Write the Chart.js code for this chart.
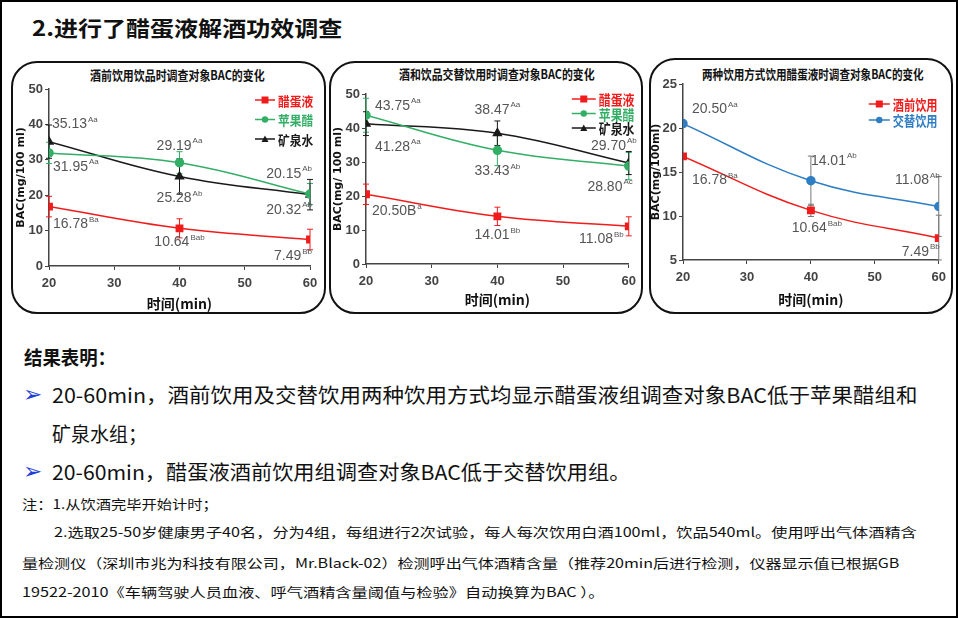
<!DOCTYPE html>
<html>
<head>
<meta charset="utf-8">
<script src="https://cdn.jsdelivr.net/npm/chart.js"></script>
<style>
  html, body { margin: 0; padding: 0; background: #fff; }
  #slide { position: relative; width: 958px; height: 618px; box-sizing: border-box; border: 2px solid #000; overflow: hidden;
           font-family: "Noto Sans CJK SC", "Noto Sans", sans-serif; color: #111; }
  .txt { position: absolute; white-space: nowrap; transform-origin: left center; }
  .panel { position: absolute; border: 2px solid #111; border-radius: 26px; box-sizing: border-box; }
  canvas { position: absolute; }
  .ctitle { font-weight: bold; font-size: 13px; color: #111; }
  .arrow { position: absolute; color: #1f3fd8; font-family: "DejaVu Sans", sans-serif; font-size: 23px; line-height: 26px; }
</style>
</head>
<body>
<div id="slide">
  <div class="txt fit" data-w="310" style="left:30px;top:10px;line-height:30px;font-size:21px;font-weight:bold;">2.进行了醋蛋液解酒功效调查</div>

  <div class="panel" style="left:9px;top:59px;width:315px;height:253px;"></div>
  <div class="panel" style="left:327px;top:59px;width:314px;height:253px;"></div>
  <div class="panel" style="left:647px;top:56px;width:304px;height:256px;"></div>

  <div class="txt fit ctitle" data-w="175" style="left:88px;top:64px;line-height:18px;">酒前饮用饮品时调查对象BAC的变化</div>
  <div class="txt fit ctitle" data-w="196" style="left:397px;top:63px;line-height:18px;">酒和饮品交替饮用时调查对象BAC的变化</div>
  <div class="txt fit ctitle" data-w="222" style="left:700px;top:63px;line-height:18px;">两种饮用方式饮用醋蛋液时调查对象BAC的变化</div>

  <canvas id="c1" width="312" height="250" style="left:10px;top:60px;"></canvas>
  <canvas id="c2" width="313" height="250" style="left:327px;top:60px;"></canvas>
  <canvas id="c3" width="302" height="253" style="left:648px;top:57px;"></canvas>

  <div class="txt fit" data-w="92" style="left:22px;top:342px;line-height:26px;font-size:19px;font-weight:bold;">结果表明：</div>
  <div class="arrow" style="left:21px;top:379px;">➢</div>
  <div class="txt fit" data-w="865" style="left:50px;top:380px;line-height:26px;font-size:20px;">20-60min，酒前饮用及交替饮用两种饮用方式均显示醋蛋液组调查对象BAC低于苹果醋组和</div>
  <div class="txt fit" data-w="95" style="left:50px;top:419px;line-height:26px;font-size:20px;">矿泉水组；</div>
  <div class="arrow" style="left:21px;top:456px;">➢</div>
  <div class="txt fit" data-w="578" style="left:50px;top:457px;line-height:26px;font-size:20px;">20-60min，醋蛋液酒前饮用组调查对象BAC低于交替饮用组。</div>

  <div class="txt fit" data-w="196" style="left:20px;top:492px;line-height:20px;font-size:13px;">注：1.从饮酒完毕开始计时；</div>
  <div class="txt fit" data-w="863" style="left:52px;top:520px;line-height:20px;font-size:13px;">2.选取25-50岁健康男子40名，分为4组，每组进行2次试验，每人每次饮用白酒100ml，饮品540ml。使用呼出气体酒精含</div>
  <div class="txt fit" data-w="878" style="left:20px;top:551px;line-height:20px;font-size:13px;">量检测仪（深圳市兆为科技有限公司，Mr.Black-02）检测呼出气体酒精含量（推荐20min后进行检测，仪器显示值已根据GB</div>
  <div class="txt fit" data-w="582" style="left:20px;top:580px;line-height:20px;font-size:13px;">19522-2010《车辆驾驶人员血液、呼气酒精含量阈值与检验》自动换算为BAC ）。</div>
</div>

<script>
// sampling times (min)
const times = [20, 40, 60];

// chart 1: 酒前饮用饮品
const c1Egg = [16.78, 10.64, 7.49];
const c1EggErr = [2.9, 2.7, 2.9];
const c1EggSup = ['Ba', 'Bab', 'Bb'];
const c1Apple = [31.95, 29.19, 20.32];
const c1AppleErr = [3.0, 3.1, 3.0];
const c1AppleSup = ['Aa', 'Aa', 'Ab'];
const c1Water = [35.13, 25.28, 20.15];
const c1WaterErr = [4.7, 5.0, 4.3];
const c1WaterSup = ['Aa', 'Ab', 'Ab'];

// chart 2: 酒和饮品交替饮用
const c2Egg = [20.50, 14.01, 11.08];
const c2EggErr = [3.0, 2.7, 2.8];
const c2EggText = ['20.50B', '14.01', '11.08'];
const c2EggSup = ['a', 'Bb', 'Bb'];
const c2Apple = [43.75, 33.43, 28.80];
const c2AppleErr = [5.0, 4.5, 4.0];
const c2AppleSup = ['Aa', 'Ab', 'Ac'];
const c2Water = [41.28, 38.47, 29.70];
const c2WaterErr = [3.5, 3.6, 3.4];
const c2WaterSup = ['Aa', 'Aa', 'Ab'];

// chart 3: 两种饮用方式饮用醋蛋液
const c3Before = [16.78, 10.64, 7.49];
const c3BeforeErr = [0, 0.7, 2.6];
const c3BeforeSup = ['Ba', 'Bab', 'Bb'];
const c3Alt = [20.50, 14.01, 11.08];
const c3AltErr = [0, 2.8, 3.4];
const c3AltSup = ['Aa', 'Ab', 'Ab'];

const RED = '#f01c1c', GREEN = '#33ae66', BLACK = '#1a1a1a', BLUE = '#2f7ec4';
const AXIS = '#444';
const NARROW = '"Liberation Sans Narrow", "Arial Narrow", "Liberation Sans", sans-serif';

// fit slide text widths
document.querySelectorAll('.fit').forEach(el => {
  const w = +el.dataset.w;
  el.style.transform = 'scaleX(' + (w / el.scrollWidth) + ')';
});

// error bars, drawn under the points
const errorBars = {
  id: 'errorBars',
  beforeDatasetsDraw(chart) {
    const ctx = chart.ctx, ys = chart.scales.y;
    chart.data.datasets.forEach((ds, i) => {
      if (!ds.errors) return;
      const meta = chart.getDatasetMeta(i);
      ctx.save();
      ctx.strokeStyle = ds.barColor || ds.borderColor;
      ctx.lineWidth = 1;
      meta.data.forEach((pt, j) => {
        const e = ds.errors[j];
        if (!e) return;
        const v = ds.data[j].y;
        const y1 = Math.max(ys.getPixelForValue(v + e), chart.chartArea.top - 8);
        const y2 = Math.min(ys.getPixelForValue(v - e), chart.chartArea.bottom);
        ctx.beginPath();
        ctx.moveTo(pt.x, y1); ctx.lineTo(pt.x, y2);
        ctx.moveTo(pt.x - 3, y1); ctx.lineTo(pt.x + 3, y1);
        ctx.moveTo(pt.x - 3, y2); ctx.lineTo(pt.x + 3, y2);
        ctx.stroke();
      });
      ctx.restore();
    });
  }
};

// value labels with superscript letters
const valueLabels = {
  id: 'valueLabels',
  afterDatasetsDraw(chart) {
    const ctx = chart.ctx;
    chart.data.datasets.forEach((ds, i) => {
      if (!ds.sups) return;
      const meta = chart.getDatasetMeta(i);
      meta.data.forEach((pt, j) => {
        const main = ds.texts ? ds.texts[j] : ds.data[j].y.toFixed(2);
        const sup = ds.sups[j];
        const [dx, dy, align] = ds.labelPos[j];
        ctx.save();
        ctx.fillStyle = '#555';
        ctx.textBaseline = 'middle';
        ctx.textAlign = 'left';
        ctx.font = '14px ' + NARROW;
        const w1 = ctx.measureText(main).width;
        ctx.font = '8px ' + NARROW;
        const w2 = ctx.measureText(sup).width + 1;
        let x = pt.x + dx;
        if (align === 'right') x -= w1 + w2;
        else if (align === 'center') x -= (w1 + w2) / 2;
        const y = pt.y + dy;
        ctx.font = '14px ' + NARROW;
        ctx.fillText(main, x, y);
        ctx.font = '8px ' + NARROW;
        ctx.fillText(sup, x + w1 + 1, y - 5);
        ctx.restore();
      });
    });
  }
};

// legend inside the plot area, top right
const innerLegend = {
  id: 'innerLegend',
  afterDraw(chart, args, opts) {
    const ctx = chart.ctx, area = chart.chartArea;
    chart.data.datasets.forEach((ds, i) => {
      const x = area.right + opts.dx, y = area.top + opts.dy + i * opts.gap;
      ctx.save();
      ctx.strokeStyle = ds.borderColor; ctx.lineWidth = 1.5;
      ctx.beginPath(); ctx.moveTo(x, y); ctx.lineTo(x + opts.len, y); ctx.stroke();
      ctx.fillStyle = ds.borderColor;
      const cx = x + opts.len / 2;
      if (ds.pointStyle === 'rect') ctx.fillRect(cx - 3.5, y - 3.5, 7, 7);
      else if (ds.pointStyle === 'triangle') { ctx.beginPath(); ctx.moveTo(cx, y - 3.5); ctx.lineTo(cx + 3.5, y + 3); ctx.lineTo(cx - 3.5, y + 3); ctx.fill(); }
      else { ctx.beginPath(); ctx.arc(cx, y, 3.2, 0, Math.PI * 2); ctx.fill(); }
      ctx.translate(x + opts.len + 3, y);
      ctx.scale(opts.sx, 1);
      ctx.font = 'bold ' + opts.size + 'px "Noto Sans CJK SC", sans-serif';
      ctx.textBaseline = 'middle';
      ctx.fillText(ds.label, 0, 1);
      ctx.restore();
    });
  }
};

function series(label, vals, errs, color, style, sups, pos, texts, barColor) {
  return {
    label, data: times.map((t, i) => ({ x: t, y: vals[i] })),
    errors: errs, sups, labelPos: pos, texts, barColor,
    borderColor: color, backgroundColor: color, pointBackgroundColor: color, pointBorderColor: color,
    pointStyle: style, pointRadius: style === 'circle' ? 4 : 4.5, borderWidth: 1.5,
    tension: 0.4, fill: false
  };
}

function makeChart(id, datasets, cfg) {
  return new Chart(document.getElementById(id), {
    type: 'line',
    data: { datasets },
    options: {
      responsive: false, animation: false,
      layout: { padding: { left: 0, top: cfg.top, right: cfg.right, bottom: 0 } },
      plugins: { legend: { display: false }, tooltip: { enabled: false }, innerLegend: cfg.legend },
      scales: {
        x: {
          type: 'linear', min: 20, max: 60,
          ticks: { stepSize: 10, color: AXIS, padding: 6, font: { family: NARROW, size: 13, weight: 'bold' } },
          grid: { drawOnChartArea: false, tickLength: 4, color: AXIS },
          border: { color: AXIS, width: 1.5 },
          title: { display: true, text: '时间(min)', color: '#111', padding: { top: 0, bottom: cfg.xTitlePad },
                   font: { family: '"Noto Sans CJK SC", sans-serif', size: 14, weight: 'bold' } },
          afterFit(s) { s.height = cfg.xh; }
        },
        y: {
          min: cfg.ymin, max: cfg.ymax,
          ticks: { stepSize: cfg.step, color: AXIS, padding: 2, font: { family: NARROW, size: 13, weight: 'bold' } },
          grid: { drawOnChartArea: false, tickLength: 4, color: AXIS },
          border: { color: AXIS, width: 1.5 },
          title: { display: true, text: cfg.ytitle, color: '#111', padding: { top: cfg.yTitlePad, bottom: 0 },
                   font: { family: '"DejaVu Sans", sans-serif', size: 11, weight: 'bold' } },
          afterFit(s) { s.width = cfg.yw; }
        }
      }
    },
    plugins: [errorBars, valueLabels, innerLegend]
  });
}

makeChart('c1', [
  series('醋蛋液', c1Egg, c1EggErr, RED, 'rect', c1EggSup, [[4, 18, 'left'], [0, 14, 'center'], [2, 17, 'right']]),
  series('苹果醋', c1Apple, c1AppleErr, GREEN, 'circle', c1AppleSup, [[4, 14, 'left'], [0, -17, 'center'], [2, 16, 'right']]),
  series('矿泉水', c1Water, c1WaterErr, BLACK, 'triangle', c1WaterSup, [[3, -17, 'left'], [0, 22, 'center'], [2, -21, 'right']])
], { top: 27, right: 14, yw: 37, xh: 46, ymin: 0, ymax: 50, step: 10, ytitle: 'BAC(mg/100 ml)',
     xTitlePad: 0, yTitlePad: 3, legend: { dx: -55, dy: 11, gap: 19.5, len: 20, size: 13, sx: 0.9 } });

makeChart('c2', [
  series('醋蛋液', c2Egg, c2EggErr, RED, 'rect', c2EggSup, [[6, 17, 'left'], [0, 19, 'center'], [-5, 13, 'right']], c2EggText),
  series('苹果醋', c2Apple, c2AppleErr, GREEN, 'circle', c2AppleSup, [[9, -9, 'left'], [0, 21, 'center'], [4, 21, 'right']]),
  series('矿泉水', c2Water, c2WaterErr, BLACK, 'triangle', c2WaterSup, [[9, 23, 'left'], [0, -23, 'center'], [8, -17, 'right']])
], { top: 32, right: 13, yw: 37, xh: 48, ymin: 0, ymax: 50, step: 10, ytitle: 'BAC(mg/ 100 ml)',
     xTitlePad: 4, yTitlePad: 3, legend: { dx: -57, dy: 5, gap: 14.5, len: 24, size: 14, sx: 0.85 } });

makeChart('c3', [
  series('酒前饮用', c3Before, c3BeforeErr, RED, 'rect', c3BeforeSup, [[9, 24, 'left'], [6, 18, 'center'], [1, 14, 'right']], null, '#777'),
  series('交替饮用', c3Alt, c3AltErr, BLUE, 'circle', c3AltSup, [[9, -14, 'left'], [0, -20, 'left'], [1, -26, 'right']], null, '#777')
], { top: 25, right: 13, yw: 33, xh: 52, ymin: 5, ymax: 25, step: 5, ytitle: 'BAC(mg/100ml)',
     xTitlePad: 4, yTitlePad: 0, legend: { dx: -70, dy: 20, gap: 16, len: 21, size: 14, sx: 0.8 } });
</script>
</body>
</html>
